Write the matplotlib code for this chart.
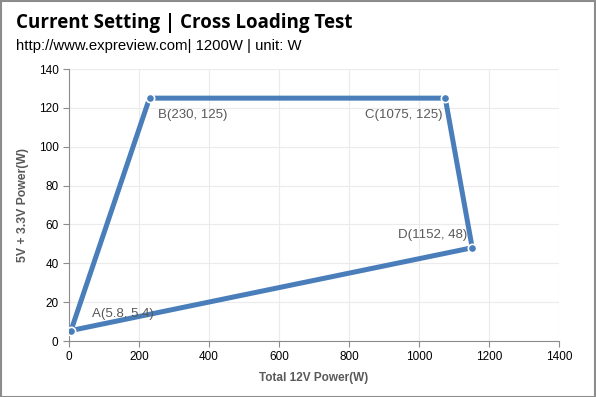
import matplotlib.pyplot as plt
from matplotlib.patches import Rectangle

# Cross loading points (12V total, 5V+3.3V)
labels = ['A', 'B', 'C', 'D']
x_vals = [5.8, 230, 1075, 1152]
y_vals = [5.4, 125, 125, 48]
label_offsets = [(21, 17), (8, -17), (-3, -17), (-5, 13)]
label_align = ['left', 'left', 'right', 'right']

line_color = '#4a7ebb'
text_gray = '#595959'

fig = plt.figure(figsize=(5.96, 3.97), dpi=100)
ax = fig.add_axes([69 / 596, 1 - 341 / 397, 490 / 596, 272 / 397])

# close the loop back to A
xs = x_vals + [x_vals[0]]
ys = y_vals + [y_vals[0]]
ax.plot(xs, ys, color=line_color, lw=3.6, solid_joinstyle='miter', zorder=3)
ax.plot(x_vals, y_vals, 'o', ms=6, color=line_color, mec='white', mew=1.2, zorder=4)

for lab, x, y, off, ha in zip(labels, x_vals, y_vals, label_offsets, label_align):
    xt = int(x) if x == int(x) else x
    yt = int(y) if y == int(y) else y
    ax.annotate(f'{lab}({xt}, {yt})', (x, y), xytext=off, textcoords='offset pixels',
                ha=ha, va='center', fontsize=9.5, color=text_gray,
                family='Liberation Sans')

ax.set_xlim(0, 1400)
ax.set_ylim(0, 140)
ax.set_xticks(range(0, 1401, 200))
ax.set_yticks(range(0, 141, 20))
ax.grid(True, color='#ebebeb', lw=0.8)
ax.set_axisbelow(True)
for s in ['top', 'right']:
    ax.spines[s].set_visible(False)
for s in ['left', 'bottom']:
    ax.spines[s].set_color('#8c8c8c')
ax.tick_params(colors='#8c8c8c', labelcolor='black', labelsize=8.5, length=4)
for t in ax.get_xticklabels() + ax.get_yticklabels():
    t.set_family('Liberation Sans')

ax.set_xlabel('Total 12V Power(W)', fontsize=8.5, color=text_gray, fontweight='bold',
              family='Liberation Sans', labelpad=6)
ax.set_ylabel('5V + 3.3V Power(W)', fontsize=8.8, color=text_gray, fontweight='bold',
              family='Liberation Sans', labelpad=7)

fig.text(16 / 596, 1 - 23 / 397, 'Current Setting | Cross Loading Test', fontsize=13.5,
         fontweight='bold', family='Open Sans', va='center', ha='left')
fig.text(16 / 596, 1 - 46 / 397, 'http://www.expreview.com| 1200W | unit: W', fontsize=10.7,
         family='Liberation Sans', va='center', ha='left')

# outer border
fig.patches.append(Rectangle((0.001, 0.001), 0.997, 0.996, transform=fig.transFigure,
                             fill=False, edgecolor='#8c8c8c', lw=1.5))

fig.savefig('out.png', dpi=100)
